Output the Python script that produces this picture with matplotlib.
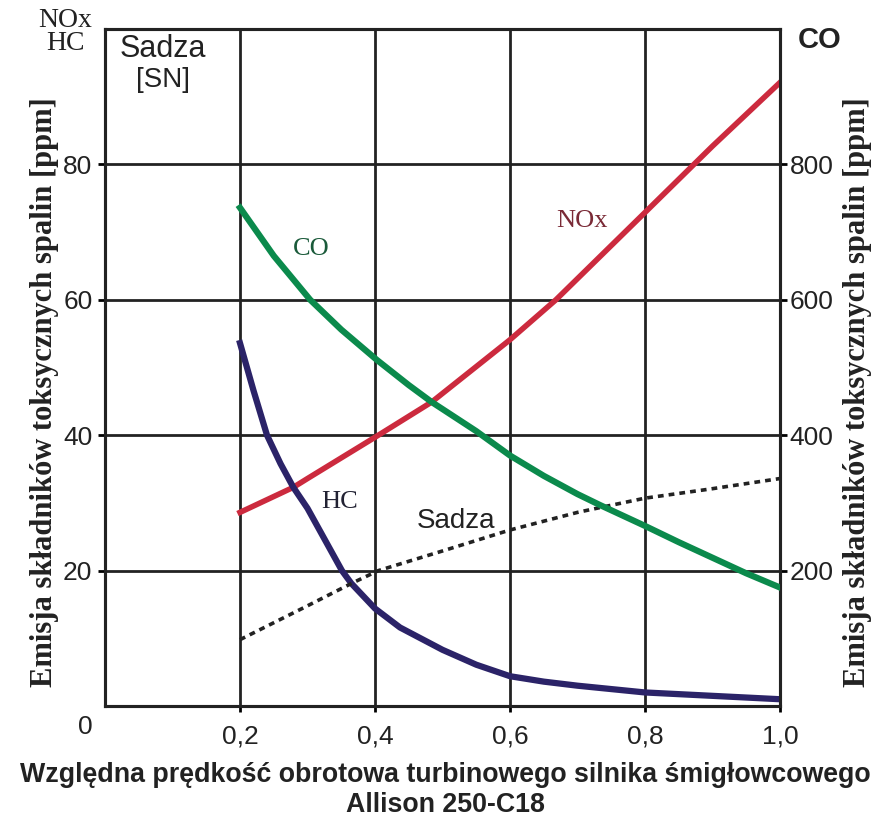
import matplotlib
matplotlib.use("Agg")
import matplotlib.pyplot as plt

# values (relative turbine speed on x)
# left axis: NOx, HC [ppm], soot [SN]
x_nox = [0.2, 0.279, 0.3, 0.405, 0.484, 0.6, 0.668, 0.8, 0.9, 1.0]
nox = [28.6, 32.3, 33.6, 40.0, 44.9, 54.1, 60.0, 72.9, 82.7, 92.1]

x_hc = [0.2, 0.22, 0.24, 0.26, 0.279, 0.3, 0.351, 0.365, 0.4, 0.437, 0.5, 0.55,
        0.6, 0.65, 0.7, 0.8, 0.9, 1.0]
hc = [53.6, 46.6, 40.0, 35.8, 32.3, 29.2, 20.0, 18.1, 14.4, 11.6, 8.3, 6.1,
      4.4, 3.6, 3.0, 2.0, 1.5, 1.0]

x_sadza = [0.2, 0.3, 0.365, 0.405, 0.5, 0.6, 0.7, 0.733, 0.8, 0.9, 1.0]
sadza = [9.8, 14.8, 18.1, 20.0, 22.9, 26.0, 28.6, 29.3, 30.7, 32.1, 33.6]

# right axis: CO [ppm]
x_co = [0.2, 0.25, 0.304, 0.35, 0.403, 0.45, 0.484, 0.55, 0.6, 0.65, 0.7, 0.733,
        0.8, 0.85, 0.9, 0.95, 1.0]
co = [736, 665, 600, 556, 511, 474, 449, 406, 370, 340, 313, 297,
      266, 242, 219, 196, 175]

x_ticks = [0.2, 0.4, 0.6, 0.8, 1.0]
x_labels = ["0,2", "0,4", "0,6", "0,8", "1,0"]
y_ticks = [20, 40, 60, 80]
y2_ticks = [200, 400, 600, 800]

ylabel = "Emisja składników toksycznych spalin [ppm]"
xlabel_1 = "Względna prędkość obrotowa turbinowego silnika śmigłowcowego"
xlabel_2 = "Allison 250-C18"

ink = "#222222"

fig = plt.figure(figsize=(8.9, 8.19), dpi=100)
ax = fig.add_axes([105 / 890, 1 - 706 / 819, 675 / 890, 677 / 819])
ax2 = ax.twinx()

ax.set_xlim(0, 1.0)
ax.set_ylim(0, 100)
ax2.set_ylim(0, 1000)

ax.grid(True, color=ink, lw=2)
ax.set_axisbelow(True)
for a in (ax, ax2):
    for s in a.spines.values():
        s.set_linewidth(2.2)
        s.set_color(ink)

ax.set_xticks(x_ticks)
ax.set_xticklabels(x_labels)
ax.set_yticks(y_ticks)
ax2.set_yticks(y2_ticks)
ax.tick_params(axis="x", length=4, width=2, pad=9, labelsize=19)
ax.tick_params(axis="y", length=5, width=2, pad=4, labelsize=19)
ax2.tick_params(axis="y", length=5, width=2, pad=2, labelsize=19)
for lab in ax.get_xticklabels() + ax.get_yticklabels() + ax2.get_yticklabels():
    lab.set_family("Liberation Sans")
    lab.set_color(ink)

# curves
ax.plot(x_nox, nox, color="#cc2a3e", lw=4, solid_joinstyle="round", zorder=3)
ax.plot(x_hc, hc, color="#2b2368", lw=4.5, solid_joinstyle="round", zorder=3)
ax.plot(x_sadza, sadza, color=ink, lw=2.6, ls=(0, (1.6, 1.4)), zorder=3)
ax2.plot(x_co, co, color="#0b8a4c", lw=4.5, solid_joinstyle="round", zorder=3)

# curve labels
ax.text(0.305, 67.5, "CO", color="#1a5a3a", fontsize=19, family="Liberation Serif",
        ha="center", va="center")
ax.text(0.707, 71.6, "NOx", color="#7a2a36", fontsize=19, family="Liberation Serif",
        ha="center", va="center")
ax.text(0.348, 30.1, "HC", color="#222233", fontsize=19, family="Liberation Serif",
        ha="center", va="center")
ax.text(0.52, 27.3, "Sadza", color=ink, fontsize=20, family="Liberation Sans",
        ha="center", va="center")

# axis unit captions
fig.text(65 / 890, 1 - 32 / 819, "NOx\nHC", fontsize=20, family="Liberation Serif",
         ha="center", va="center", linespacing=0.9, color=ink)
ax.text(0.086, 97.0, "Sadza", fontsize=22, family="Liberation Sans",
        ha="center", va="center", color=ink)
ax.text(0.086, 92.4, "[SN]", fontsize=20, family="Liberation Sans",
        ha="center", va="center", color=ink)
fig.text(820 / 890, 1 - 40 / 819, "CO", fontsize=21, fontweight="bold",
         family="Liberation Sans", ha="center", va="center", color=ink)
fig.text(85 / 890, 1 - 727 / 819, "0", fontsize=19, family="Liberation Sans",
         ha="center", va="center", color=ink)

fig.text(45 / 890, 1 - 392 / 819, ylabel, rotation=90, fontsize=22, fontweight="bold",
         family="Liberation Serif", ha="center", va="center", color=ink)
fig.text(857 / 890, 1 - 392 / 819, ylabel, rotation=90, fontsize=22, fontweight="bold",
         family="Liberation Serif", ha="center", va="center", color=ink)

fig.text(445 / 890, 1 - 775 / 819, xlabel_1, fontsize=19.3, fontweight="bold",
         family="Liberation Sans", ha="center", va="center", color=ink)
fig.text(445 / 890, 1 - 805 / 819, xlabel_2, fontsize=19.3, fontweight="bold",
         family="Liberation Sans", ha="center", va="center", color=ink)

fig.savefig("out.png", dpi=100)
